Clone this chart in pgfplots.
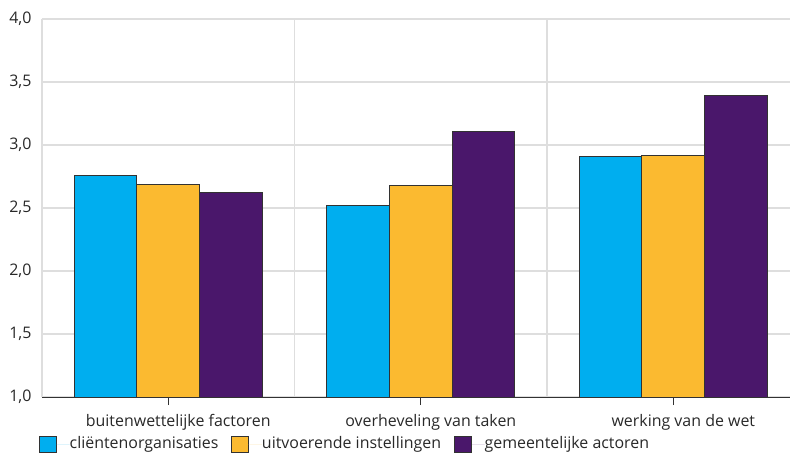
\documentclass[border=0pt]{standalone}
\usepackage{pgfplots}
\pgfplotsset{compat=1.18}
\usepackage{fontspec}
\setmainfont{Open Sans}
\definecolor{cblue}{RGB}{0,174,239}
\definecolor{corange}{RGB}{251,186,48}
\definecolor{cpurple}{RGB}{74,23,107}
\definecolor{cborder}{RGB}{50,50,50}
\definecolor{cgrid}{RGB}{222,222,222}
\definecolor{ctext}{RGB}{40,40,40}
\begin{document}
\fontsize{16}{19}\selectfont
\begin{tikzpicture}
\useasboundingbox (-42bp,-68bp) rectangle (748bp,397bp);
\begin{axis}[
  at={(0,0)}, anchor=south west,
  scale only axis,
  width=748bp, height=378bp,
  xmin=-0.5, xmax=2.462,
  ymin=1, ymax=4,
  ytick={1,1.5,2,2.5,3,3.5,4},
  xtick={0,1,2},
  xticklabels={buitenwettelijke factoren, overheveling van taken, werking van de wet},
  minor xtick={0.5,1.5},
  xminorgrids=true, ymajorgrids=true,
  grid style={cgrid, line width=1.2bp},
  minor grid style={cgrid, line width=1.2bp},
  axis x line*=bottom, axis y line*=left,
  axis line style={-},
  x axis line style={draw=cborder, line width=1bp},
  y axis line style={draw=cgrid, line width=1.2bp},
  ytick style={draw=none},
  xtick style={draw=cborder, line width=1bp},
  minor tick length=0pt,
  major tick length=8bp,
  tick align=outside,
  /pgf/number format/use comma,
  /pgf/number format/fixed,
  /pgf/number format/fixed zerofill,
  /pgf/number format/precision=1,
  /pgf/number format/assume math mode=true,
  ticklabel style={font=\fontsize{16}{19}\selectfont, text=ctext},
  xticklabel style={yshift=-4bp, xshift=10bp},
  yticklabel style={xshift=3bp},
  ybar=0pt, bar width=62.7bp,
  legend columns=-1,
  legend style={draw=none, at={(0,0)}, anchor=west, xshift=-6bp, yshift=-47bp,
    font=\fontsize{16}{19}\selectfont, text=ctext,
    /tikz/column sep=0pt,
    nodes={inner xsep=0pt}},
  legend image code/.code={\draw[#1, line width=1bp] (0bp,-8bp) rectangle (17bp,8bp); \path[draw=none] (0bp,0bp) -- (30bp,0bp);},
  every axis plot/.append style={draw=cborder, line width=1bp},
]
\addplot[fill=cblue] coordinates {(0,2.76) (1,2.52) (2,2.91)};
\addplot[fill=corange] coordinates {(0,2.69) (1,2.68) (2,2.92)};
\addplot[fill=cpurple] coordinates {(0,2.62) (1,3.11) (2,3.39)};
\legend{cliëntenorganisaties\hspace*{13bp}, uitvoerende instellingen\hspace*{13bp}, gemeentelijke actoren}
\end{axis}
\end{tikzpicture}
\end{document}
